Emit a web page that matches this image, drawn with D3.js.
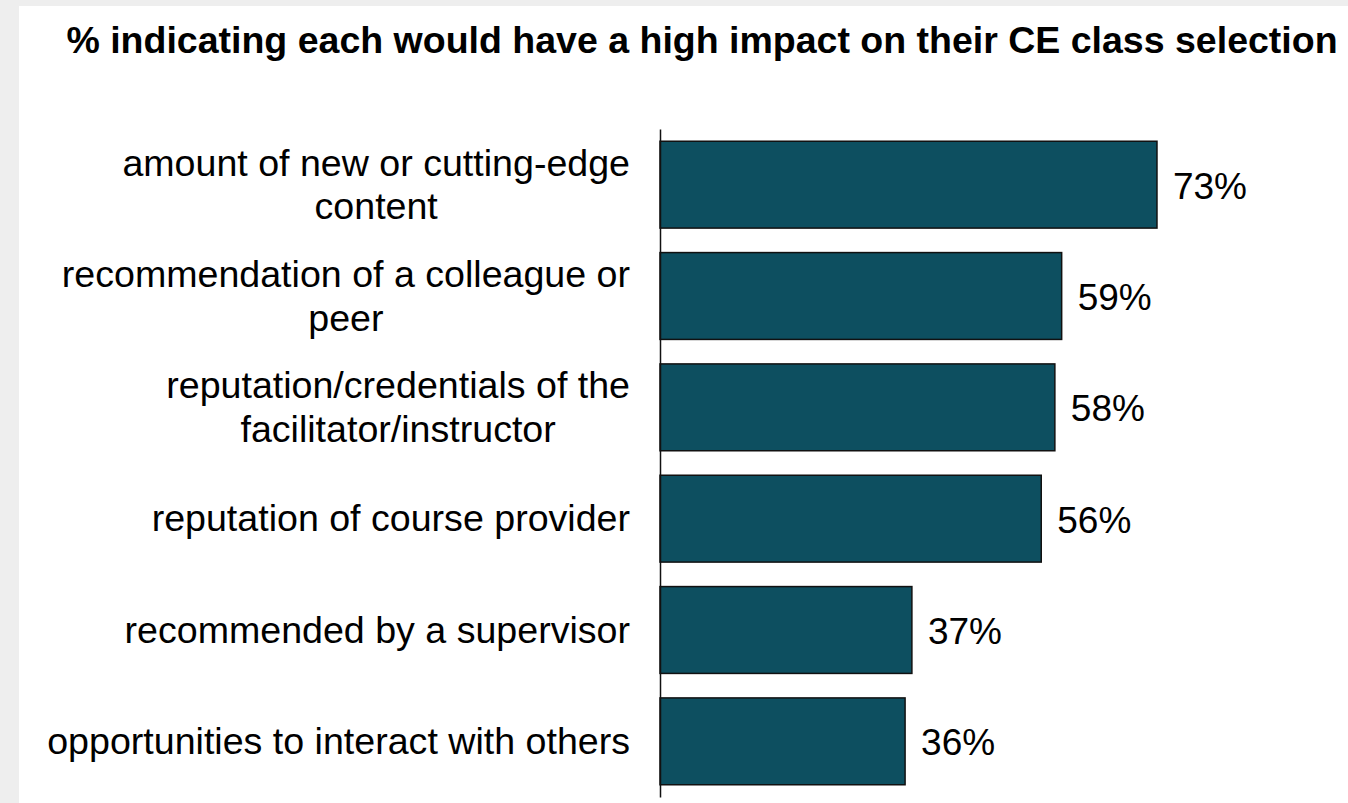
<!DOCTYPE html>
<html>
<head>
<meta charset="utf-8">
<script src="https://cdn.jsdelivr.net/npm/d3@7/dist/d3.min.js"></script>
<style>
  html, body { margin: 0; padding: 0; background: #eeeeee; }
  svg { display: block; }
</style>
</head>
<body>
<svg id="chart" width="1348" height="803"></svg>
<script>
const title = "% indicating each would have a high impact on their CE class selection";
const categories = [
  ["amount of new or cutting-edge", "content"],
  ["recommendation of a colleague or", "peer"],
  ["reputation/credentials of the", "facilitator/instructor"],
  ["reputation of course provider"],
  ["recommended by a supervisor"],
  ["opportunities to interact with others"]
];
const values = [73, 59, 58, 56, 37, 36];
const valueLabels = ["73%", "59%", "58%", "56%", "37%", "36%"];

const W = 1348, H = 803;
const svg = d3.select("#chart");
const font = "'Liberation Sans', Arial, sans-serif";

svg.append("rect").attr("x", 19).attr("y", 6).attr("width", W - 19).attr("height", H - 6).attr("fill", "#ffffff");

svg.append("text")
  .attr("x", 702).attr("y", 53)
  .attr("text-anchor", "middle")
  .attr("font-family", font).attr("font-size", 37.5).attr("font-weight", "bold")
  .attr("fill", "#000")
  .text(title);

const x0 = 660;
const x = d3.scaleLinear().domain([0, 100]).range([x0, x0 + 680.8]);
const y = d3.scaleBand().domain(d3.range(values.length)).range([129, 797])
  .paddingInner(0.22).paddingOuter(0.11);

const rows = values.map((v, i) => ({ v, i, lines: categories[i], label: valueLabels[i] }));

svg.append("g").selectAll("rect").data(rows).join("rect")
  .attr("x", x(0))
  .attr("y", d => y(d.i))
  .attr("width", d => x(d.v) - x(0))
  .attr("height", y.bandwidth())
  .attr("fill", "#0d4f60")
  .attr("stroke", "#111")
  .attr("stroke-width", 1.5);

// axis line
const yAxis = d3.axisLeft(y).tickSize(0).tickFormat("");
const ag = svg.append("g").attr("transform", `translate(${x0},0)`).call(yAxis);
ag.select(".domain").attr("stroke", "#111").attr("stroke-width", 1.5);

// category labels
const labelRight = 630, fs = 37.6, lh = 43.5;
const lg = svg.append("g").attr("font-family", font).attr("font-size", fs).attr("fill", "#000");
rows.forEach(d => {
  const cy = y(d.i) + y.bandwidth() / 2;
  const n = d.lines.length;
  const t = lg.append("text").attr("text-anchor", "middle");
  const spans = d.lines.map((ln, k) =>
    t.append("tspan").attr("y", cy + (k - (n - 1) / 2) * lh).attr("dy", "0.34em").text(ln));
  let maxW = 0;
  spans.forEach(s => { maxW = Math.max(maxW, s.node().getComputedTextLength()); });
  spans.forEach(s => s.attr("x", labelRight - maxW / 2));
});

// value labels
svg.append("g").selectAll("text").data(rows).join("text")
  .attr("x", d => x(d.v) + 16)
  .attr("y", d => y(d.i) + y.bandwidth() / 2)
  .attr("dy", "0.38em")
  .attr("font-family", font).attr("font-size", 37).attr("fill", "#000")
  .text(d => d.label);
</script>
</body>
</html>
